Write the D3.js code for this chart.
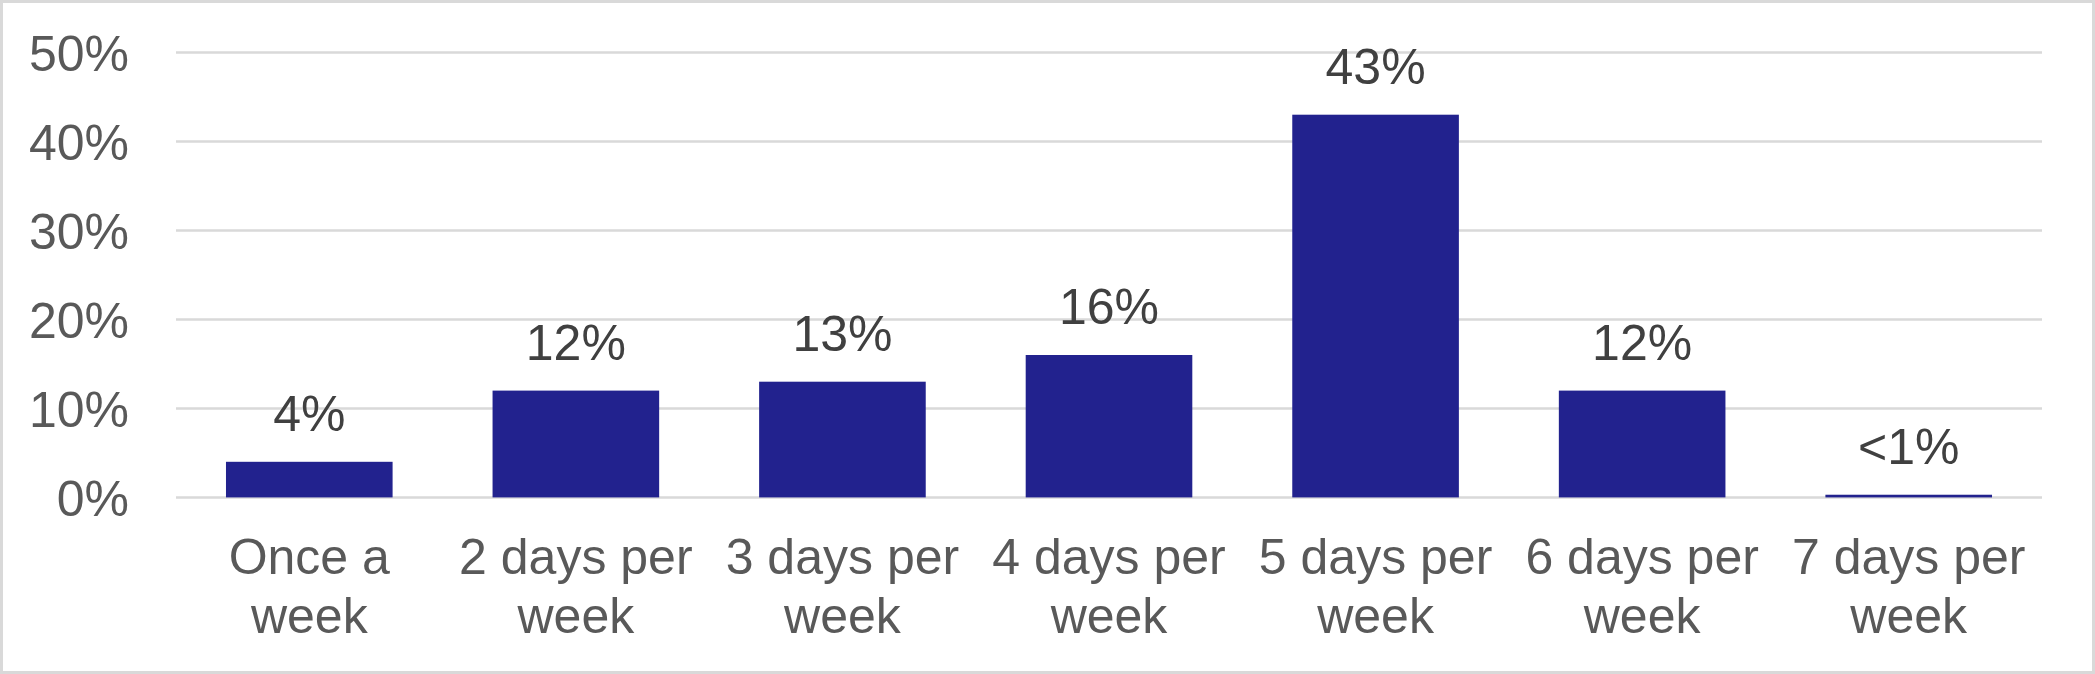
<!DOCTYPE html>
<html>
<head>
<meta charset="utf-8">
<script src="https://cdn.jsdelivr.net/npm/d3@7"></script>
<style>
  html, body { margin: 0; padding: 0; background: #fff; }
  svg { display: block; }
  text { font-family: "Liberation Sans", Arial, sans-serif; }
</style>
</head>
<body>
<svg id="chart" width="2095" height="674"></svg>
<script>
const categories = [["Once a", "week"], ["2 days per", "week"], ["3 days per", "week"], ["4 days per", "week"], ["5 days per", "week"], ["6 days per", "week"], ["7 days per", "week"]];
const values = [4, 12, 13, 16, 43, 12, 0.3];
const valueLabels = ["4%", "12%", "13%", "16%", "43%", "12%", "<1%"];
const yTicks = [0, 10, 20, 30, 40, 50];

const W = 2095, H = 674;
const FS = 50;
const margin = { left: 176, right: 53, top: 52.4, bottom: 176.6 };
const svg = d3.select("#chart");

svg.append("rect")
  .attr("x", 1.5).attr("y", 1.5)
  .attr("width", W - 3).attr("height", H - 3)
  .attr("fill", "#fff").attr("stroke", "#d9d9d9").attr("stroke-width", 3);

const x = d3.scaleBand()
  .domain(d3.range(categories.length))
  .range([margin.left, W - margin.right])
  .paddingInner(0.375)
  .paddingOuter(0.1875);

const y = d3.scaleLinear()
  .domain([0, 50])
  .range([H - margin.bottom, margin.top]);

// gridlines
svg.append("g")
  .selectAll("line")
  .data(yTicks)
  .join("line")
  .attr("x1", margin.left).attr("x2", W - margin.right)
  .attr("y1", d => y(d)).attr("y2", d => y(d))
  .attr("stroke", "#d9d9d9").attr("stroke-width", 2.5);

// y axis labels
const yAxis = d3.axisLeft(y).tickValues(yTicks).tickFormat(d => d + "%").tickSize(0).tickPadding(0);
const yg = svg.append("g")
  .attr("transform", `translate(${129},0)`)
  .call(yAxis);
yg.select(".domain").remove();
yg.selectAll("text")
  .attr("fill", "#595959")
  .attr("font-size", FS)
  .attr("font-family", "'Liberation Sans', Arial, sans-serif")
  .attr("dy", "0.36em");

// bars
svg.append("g")
  .selectAll("rect")
  .data(values)
  .join("rect")
  .attr("x", (d, i) => x(i))
  .attr("width", x.bandwidth())
  .attr("y", d => y(d))
  .attr("height", d => y(0) - y(d))
  .attr("fill", "#22228E");

// value labels
svg.append("g")
  .selectAll("text")
  .data(values)
  .join("text")
  .attr("x", (d, i) => x(i) + x.bandwidth() / 2)
  .attr("y", d => y(d) - 31)
  .attr("text-anchor", "middle")
  .attr("font-size", FS)
  .attr("fill", "#404040")
  .text((d, i) => valueLabels[i]);

// category labels
const cg = svg.append("g")
  .selectAll("text")
  .data(categories)
  .join("text")
  .attr("x", (d, i) => x(i) + x.bandwidth() / 2)
  .attr("y", 574)
  .attr("text-anchor", "middle")
  .attr("font-size", FS)
  .attr("fill", "#595959");
cg.selectAll("tspan")
  .data(d => d)
  .join("tspan")
  .attr("x", function() { return this.parentNode.getAttribute("x"); })
  .attr("dy", (d, j) => j === 0 ? 0 : 58.5)
  .text(d => d);
</script>
</body>
</html>
